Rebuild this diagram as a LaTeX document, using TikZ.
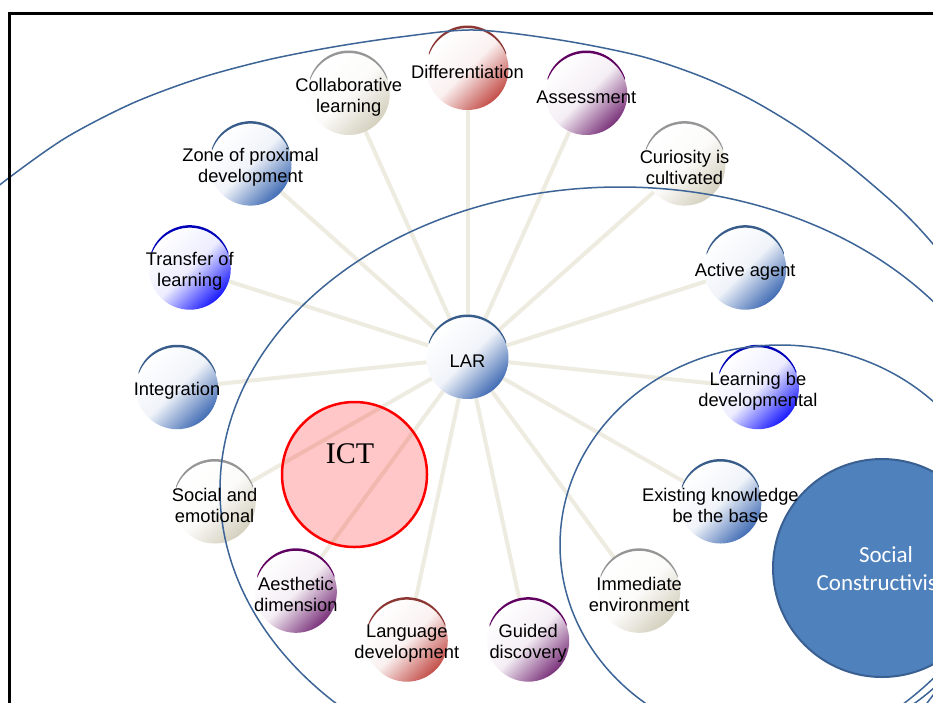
\documentclass[tikz,border=0pt]{standalone}
\usepackage{fontspec}
\setmainfont{Liberation Sans}
\newfontfamily\carl{Carlito}
\newfontfamily\tnr{Liberation Serif}
\usetikzlibrary{calc}
\pgfdeclarelayer{bg}
\pgfdeclarelayer{ell}
\pgfdeclarelayer{txt}
\pgfsetlayers{bg,main,ell,txt}

\definecolor{blF}{RGB}{65,108,180}
\definecolor{blR}{RGB}{56,93,138}
\definecolor{bbF}{RGB}{25,25,255}
\definecolor{bbR}{RGB}{0,0,185}
\definecolor{rdF}{RGB}{195,78,72}
\definecolor{rdR}{RGB}{140,55,52}
\definecolor{puF}{RGB}{122,50,122}
\definecolor{puR}{RGB}{96,0,96}
\definecolor{gyF}{RGB}{212,208,190}
\definecolor{gyR}{RGB}{150,150,150}
\definecolor{connC}{RGB}{238,236,225}
\definecolor{ellC}{RGB}{60,100,150}
\definecolor{scF}{RGB}{79,129,189}
\definecolor{scR}{RGB}{58,96,145}

\tikzset{
  bub/.style={circle, minimum size=82pt, inner sep=0pt, shading=axis,
    top color=white, bottom color=curF, middle color=curF!8!white, shading angle=45},
  lbl/.style={align=center, inner sep=0pt, font=\fontsize{18.3}{21}\selectfont},
  conn/.style={draw=connC, line width=4pt},
  ellline/.style={draw=ellC, line width=1.5pt},
  rim/.style={fill=curR},
}

\begin{document}
\begin{tikzpicture}[x=1pt,y=-1pt]
\useasboundingbox (0,0) rectangle (933,702);
\begin{pgfonlayer}{bg}
\fill[white] (0,0) rectangle (933,702);
\end{pgfonlayer}

\begin{scope}
\clip (0,0) rectangle (933,702);
% central node
\colorlet{curF}{blF}\colorlet{curR}{blR}
\node[bub] (lar) at (467.5,358) {};
\fill[rim] ($(lar.center)+(0pt,2.5pt)+(160:41pt)$) arc[start angle=160,end angle=20,radius=41pt]
  -- ($(lar.center)+(20:41pt)$) arc[start angle=20,end angle=160,radius=41pt] -- cycle;
\begin{pgfonlayer}{txt}
\node[lbl] (lar-t) at ($(lar.center)+(0pt,-3pt)$) {LAR};
\end{pgfonlayer}

\foreach \nm/\ang/\col/\txt in {
  diff/90/rd/{Differentiation},
  collab/114/gy/{Collaborative\\learning},
  zone/138/bl/{Zone of proximal\\development},
  transfer/162/bb/{Transfer of\\learning},
  integ/186/bl/{Integration},
  social/210/gy/{Social and\\emotional},
  aesth/234/pu/{Aesthetic\\dimension},
  lang/258/rd/{Language\\development},
  guided/282/pu/{Guided\\discovery},
  immed/306/gy/{Immediate\\environment},
  exist/330/bl/{Existing knowledge\\be the base},
  learn/354/bb/{Learning be\\developmental},
  active/18/bl/{Active agent},
  curio/42/gy/{Curiosity is\\cultivated},
  assess/66/pu/{Assessment}}{
  \colorlet{curF}{\col F}\colorlet{curR}{\col R}
  \node[bub] (\nm) at ({467.5+292*cos(\ang)},{358-289*sin(\ang)}) {};
  \fill[rim] ($(\nm.center)+(0pt,2.5pt)+(160:41pt)$) arc[start angle=160,end angle=20,radius=41pt]
    -- ($(\nm.center)+(20:41pt)$) arc[start angle=20,end angle=160,radius=41pt] -- cycle;
  \begin{pgfonlayer}{bg}
  \draw[conn] (lar) -- (\nm);
  \end{pgfonlayer}
  \begin{pgfonlayer}{txt}
  \node[lbl] (\nm-t) at ($(\nm.center)+(0pt,-3pt)$) {\txt};
  \end{pgfonlayer}
}

% ICT
\node[circle, minimum size=145pt, inner sep=0pt, draw=red, line width=2.5pt,
  fill=red, fill opacity=0.22] (ict) at (354.5,474.5) {};
% Social Constructivism
\node[circle, minimum size=218pt, inner sep=0pt, fill=scF, draw=scR, line width=2pt] (sc) at (882,568) {};
\end{scope}

\begin{pgfonlayer}{ell}
\begin{scope}
\clip (0,0) rectangle (933,702);
% outer ring
\draw[ellline] plot[smooth, tension=0.5] coordinates {(-40,217) (10,177) (67,137) (133,103) (200,78) (267,60) (333,47) (400,37) (474,30) (560,40) (640,56) (700,76) (750,99) (800,129) (850,166) (900,209) (933,244) (970,292)};
\draw[ellline] (924,707) -- (940,686);
% middle ring
\draw[ellline] (620,490) ellipse [x radius=400pt, y radius=303pt];
% inner ring
\draw[ellline] (780,545) ellipse [x radius=220pt, y radius=200pt];
% frame
\draw[line width=3pt] (9.5,13.5) rectangle (1000,800);
\end{scope}
\end{pgfonlayer}

\begin{pgfonlayer}{txt}
\begin{scope}
\clip (0,0) rectangle (933,702);
\node[font=\tnr\fontsize{30}{30}\selectfont] (ict-t) at (350,453.5) {ICT};
\node[font=\carl\fontsize{23}{28}\selectfont, text=white, align=center] (sc-t) at (886,569) {Social\\Constructivism};
\end{scope}
\end{pgfonlayer}
\end{tikzpicture}
\end{document}
